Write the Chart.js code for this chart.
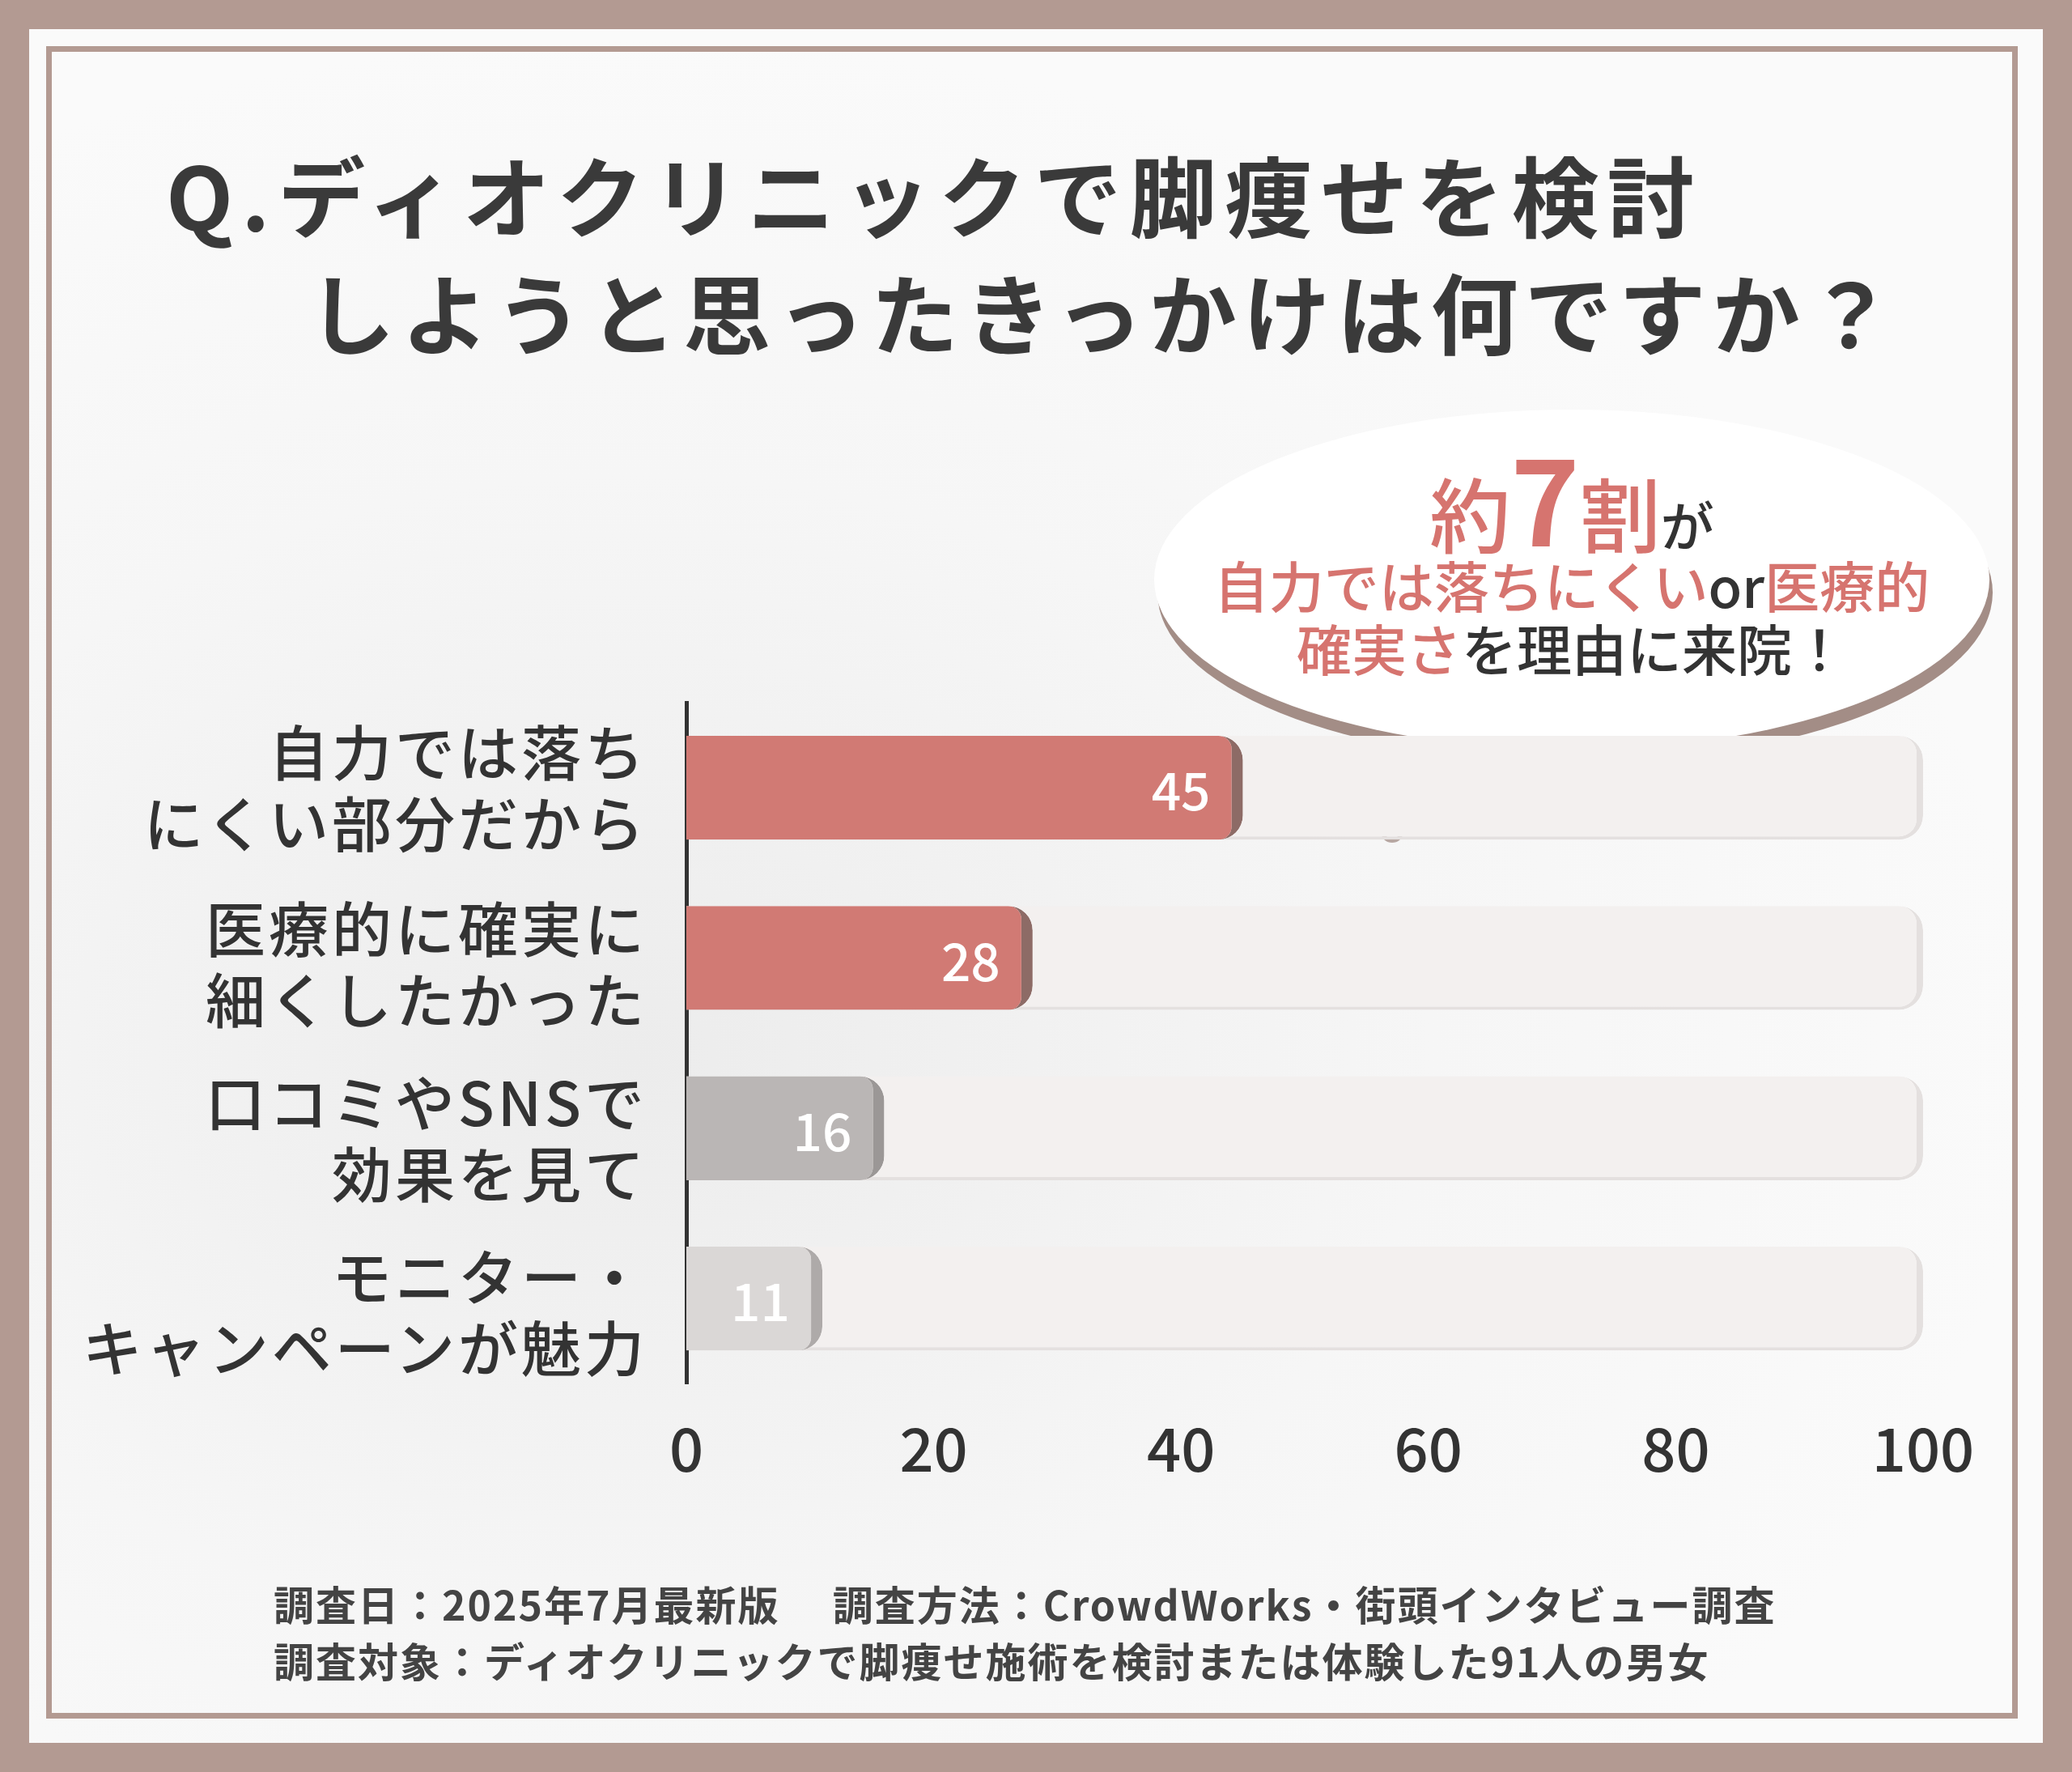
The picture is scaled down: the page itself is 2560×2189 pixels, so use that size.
<!DOCTYPE html>
<html><head><meta charset="utf-8">
<script src="https://cdn.jsdelivr.net/npm/chart.js@4"></script>
<style>
html,body{margin:0;padding:0;}
body{width:2560px;height:2189px;position:relative;overflow:hidden;background:#b39a92;font-family:"Noto Sans CJK JP",sans-serif;}
#card{position:absolute;left:36px;top:36px;width:2488px;height:2117px;background:radial-gradient(ellipse at 30% 60%,#ececec 0%,#f6f6f6 40%,#fafafa 70%);}
#frame{position:absolute;left:57px;top:57px;width:2436px;height:2066px;border:7px solid #b39a92;box-sizing:border-box;}
.t{position:absolute;color:#3a3a3a;font-weight:700;white-space:nowrap;}
#bubble{position:absolute;left:1426px;top:506px;width:1032px;height:420px;background:#fff;border-radius:50%;box-shadow:4px 16px 0 #a38d86;}
#tail{position:absolute;left:1850px;top:880px;width:0;height:0;border-left:40px solid transparent;border-right:60px solid transparent;border-top:80px solid #fff;}
.dot{position:absolute;background:#fff;border-radius:50%;box-shadow:0 6px 0 #b7a7a2;}
.pk{color:#d6746f;}
.lab{position:absolute;right:1760px;text-align:right;font-size:74px;line-height:88px;color:#333;font-weight:500;letter-spacing:4px;white-space:nowrap;}
#cwrap{position:absolute;left:0;top:800px;width:2560px;height:1100px;}
</style></head><body>
<div id="card"></div><div id="frame"></div>
<div class="t" style="left:205px;top:160px;font-size:108px;letter-spacing:10px;">Q.ディオクリニックで脚痩せを検討</div>
<div class="t" style="left:380px;top:305px;font-size:108px;letter-spacing:8px;">しようと思ったきっかけは何ですか？</div>
<div id="bubble"></div><div id="tail"></div>
<div class="dot" style="left:1752px;top:975px;width:58px;height:38px;"></div>
<div class="dot" style="left:1707px;top:1013px;width:26px;height:22px;"></div>
<div class="t" style="left:1426px;width:1032px;text-align:center;top:540px;line-height:145px;font-weight:500;color:#333;"><span class="pk" style="font-size:100px;">約</span><span class="pk" style="font-size:145px;font-weight:700;">7</span><span class="pk" style="font-size:100px;">割</span><span style="font-size:66px;">が</span></div>
<div class="t" style="left:1426px;width:1032px;text-align:center;top:682px;line-height:80px;font-size:68px;font-weight:500;color:#333;"><span class="pk">自力では落ちにくい</span>or<span class="pk">医療的</span></div>
<div class="t" style="left:1426px;width:1032px;text-align:center;top:760px;line-height:80px;font-size:68px;font-weight:500;color:#333;"><span class="pk">確実さ</span>を理由に来院！</div>
<div class="lab" style="top:882px;">自力では落ち<br>にくい部分だから</div>
<div class="lab" style="top:1100px;">医療的に確実に<br>細くしたかった</div>
<div class="lab" style="top:1315px;">口コミやSNSで<br>効果を見て</div>
<div class="lab" style="top:1530px;">モニター・<br>キャンペーンが魅力</div>
<div id="cwrap"><canvas id="c" width="2560" height="1100"></canvas></div>
<div class="t" style="left:338px;top:1944px;font-size:50px;color:#444;letter-spacing:2px;">調査日：2025年7月最新版　 調査方法：CrowdWorks・街頭インタビュー調査</div>
<div class="t" style="left:338px;top:2014px;font-size:50px;color:#444;letter-spacing:2px;">調査対象：ディオクリニックで脚痩せ施術を検討または体験した91人の男女</div>
<script>
const categories=["自力では落ちにくい部分だから","医療的に確実に細くしたかった","口コミやSNSで効果を見て","モニター・キャンペーンが魅力"];
const values=[45,28,16,11];
const trackValues=[100,100,100,100];
const xTickStep=20;
const barColors=["#d17a74","#d17a74","#bab6b5","#dad7d6"];
const edgeColors=["#8d6b66","#8d6b66","#9b9796","#aeaaa9"];
const labelPlugin={id:'lbl',afterDatasetsDraw(ch){const ctx=ch.ctx;const m=ch.getDatasetMeta(1);ctx.save();ctx.fillStyle='#fff';ctx.font='500 64px "Noto Sans CJK JP"';ctx.textAlign='right';ctx.textBaseline='middle';m.data.forEach((b,i)=>{ctx.fillText(String(values[i]),b.x-40,b.y+4);});ctx.restore();}};
new Chart(document.getElementById('c'),{type:'bar',
data:{labels:categories,datasets:[
{data:trackValues,backgroundColor:'#f3f0ef',borderColor:'#e4e0df',borderWidth:{right:8,bottom:4,top:0,left:0},borderRadius:30,borderSkipped:'start',grouped:false,order:2,barPercentage:0.61,categoryPercentage:1},
{data:values,backgroundColor:barColors,borderColor:edgeColors,borderWidth:{right:14,top:0,bottom:0,left:0},borderRadius:30,borderSkipped:'start',grouped:false,order:1,barPercentage:0.61,categoryPercentage:1}]},
options:{indexAxis:'y',responsive:false,animation:false,devicePixelRatio:1,
layout:{padding:{left:848,right:184,top:68,bottom:30}},
plugins:{legend:{display:false},tooltip:{enabled:false}},
scales:{y:{display:true,ticks:{display:false},grid:{display:false,drawTicks:false},border:{display:true,color:'#333',width:5}},
x:{min:0,max:100,ticks:{stepSize:xTickStep,color:'#333',font:{size:74,family:'"Noto Sans CJK JP"',weight:500},padding:36},grid:{display:false,drawTicks:false},border:{display:false}}}},
plugins:[labelPlugin]});
</script>
</body></html>
